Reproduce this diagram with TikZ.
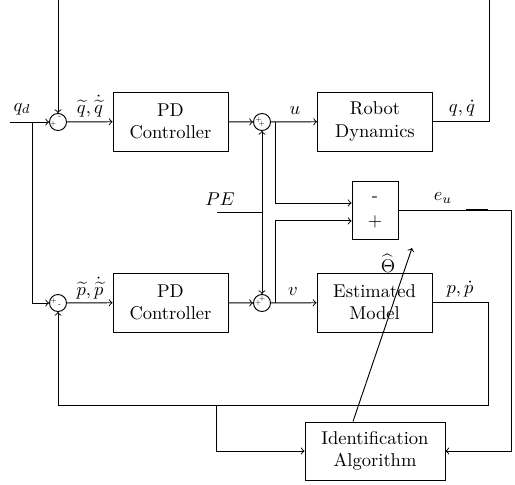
\documentclass[tikz,border=0pt]{standalone}
\usetikzlibrary{calc}
\begin{document}
\begin{tikzpicture}[x=0.54pt,y=-0.54pt,line width=0.5pt,>=to,
  blk/.style={draw,minimum width=62.1pt,minimum height=31.9pt,align=center,inner sep=0pt},
  cmpbox/.style={draw,minimum width=24.8pt,minimum height=31.3pt,inner sep=0pt},
  idbox/.style={draw,minimum width=75.6pt,minimum height=31.3pt,align=center,inner sep=0pt},
  sumc/.style={draw,circle,minimum size=9.2pt,inner sep=0pt},
  sg/.style={font=\fontsize{3.4}{3.4}\selectfont,inner sep=0pt},
  lbl/.style={inner sep=0pt}]
\useasboundingbox (0,0) rectangle (515,485);
% blocks
\node[blk] (pd1) at (170.5,121.5) {PD\\Controller};
\node[blk] (rob) at (375,121.5) {Robot\\Dynamics};
\node[blk] (pd2) at (170.5,302.5) {PD\\Controller};
\node[blk] (est) at (374.5,302.5) {Estimated\\Model};
\node[cmpbox] (cmp) at (375,210) {};
\node[lbl] (cmpm) at (375,199) {-};
\node[lbl] (cmpp) at (375,222) {+};
\node[idbox] (ida) at (375,451) {Identification\\Algorithm};
% summing junctions
\node[sumc] (s1) at (58,122) {};
\node[sg] (s1p) at ($(s1)+(-5,1.5)$) {+};
\node[sg] (s1m) at ($(s1)+(1.7,-4)$) {-};
\node[sumc] (s2) at (262,122) {};
\node[sg] (s2p) at ($(s2)+(-3.5,-2)$) {+};
\node[sg] (s2q) at ($(s2)+(-0.5,2)$) {+};
\node[sumc] (s3) at (58,303) {};
\node[sg] (s3p) at ($(s3)+(-4.5,-2)$) {+};
\node[sg] (s3m) at ($(s3)+(1.5,2.5)$) {-};
\node[sumc] (s4) at (262,303) {};
\node[sg] (s4p) at ($(s4)+(0,-4.5)$) {+};
\node[sg] (s4q) at ($(s4)+(-4,0)$) {+};
% coordinates
\coordinate (qin) at (10,122);
\coordinate (br1) at (32,122);
\coordinate (tr) at (489,-4);
\coordinate (tl) at (58,-4);
\coordinate (pe) at (217,212);
\coordinate (pj) at (262,212);
\coordinate (ub) at (275,122);
\coordinate (vb) at (275,303);
\coordinate (eu) at (511,210);
\coordinate (ta) at (466,210);
\coordinate (tb) at (488,210);
\coordinate (pf) at (488,405);
\coordinate (ib) at (216,405);
\coordinate (th) at (412,248);
% connectors
\draw[->] (qin) -- (s1);
\draw[->] (br1) |- (s3);
\draw[->] (s1) -- (pd1);
\draw[->] (pd1) -- (s2);
\draw[->] (s2) -- (rob);
\draw[->] (rob.east) -| (tr) -- (tl) -- (s1);
\draw[->] (s3) -- (pd2);
\draw[->] (pd2) -- (s4);
\draw[->] (s4) -- (est);
\draw (pe) -- (pj);
\draw[->] (pj) -- (s2);
\draw[->] (pj) -- (s4);
\draw[->] (ub) |- ([yshift=3.8pt]cmp.west);
\draw[->] (vb) |- ([yshift=-5.9pt]cmp.west);
\draw[->] (cmp.east) -- (eu) |- (ida.east);
\draw[line width=1pt] (ta) -- (tb);
\draw[->] (est.east) -| (pf) -| (s3);
\draw[->] (ib) |- (ida.west);
\draw[->] ([xshift=-11.9pt]ida.north) -- (th);
% labels
\node[lbl] (lqd) at (22,109) {$q_d$};
\node[lbl] (lqt) at (90,106) {$\widetilde{q},\dot{\widetilde{q}}$};
\node[lbl] (lu) at (295,111) {$u$};
\node[lbl] (lq) at (462,108) {$q,\dot{q}$};
\node[lbl] (lpe) at (220,199) {$PE$};
\node[lbl] (leu) at (443,198) {$e_u$};
\node[lbl] (lth) at (388,263) {$\widehat{\Theta}$};
\node[lbl] (lpt) at (90,288) {$\widetilde{p},\dot{\widetilde{p}}$};
\node[lbl] (lv) at (293,292) {$v$};
\node[lbl] (lp) at (460,289) {$p,\dot{p}$};
\end{tikzpicture}
\end{document}
